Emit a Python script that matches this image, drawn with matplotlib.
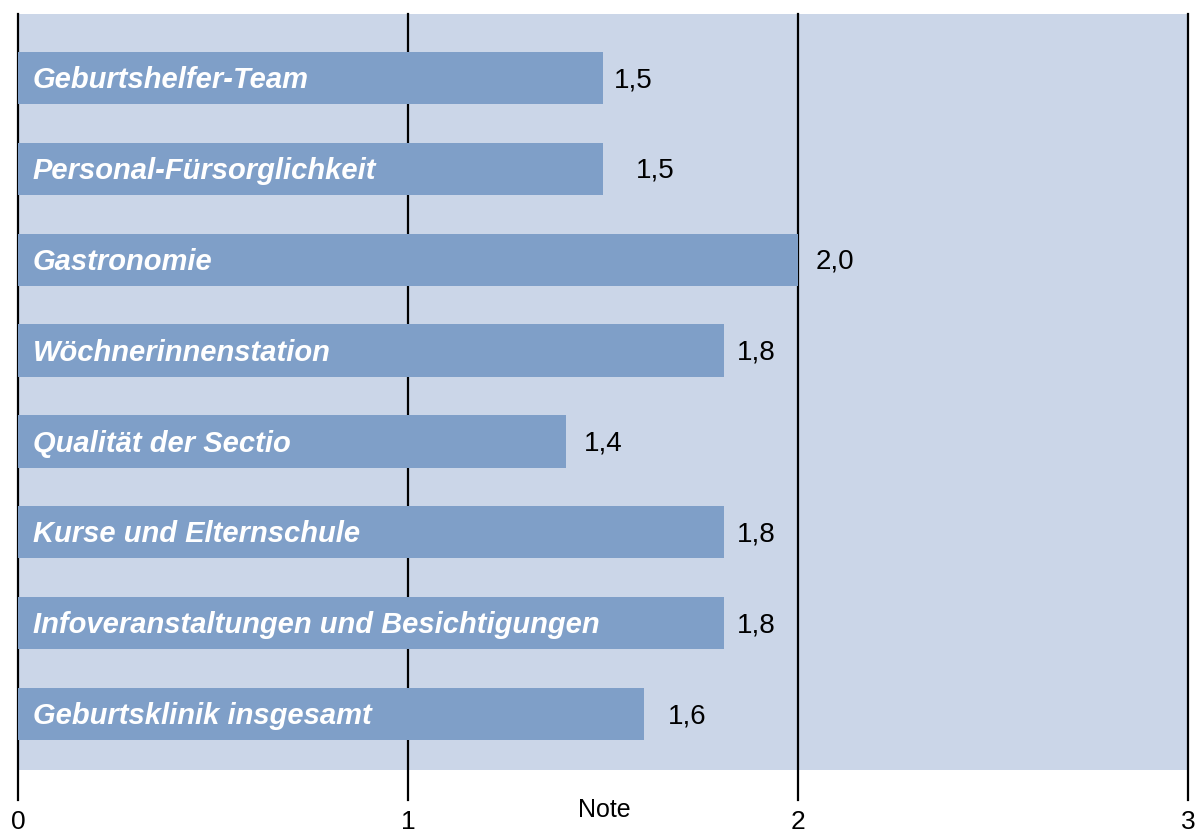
import matplotlib.pyplot as plt
import matplotlib.transforms as mtransforms

# categories, top to bottom
categories = ['Geburtshelfer-Team', 'Personal-Fürsorglichkeit', 'Gastronomie',
              'Wöchnerinnenstation', 'Qualität der Sectio', 'Kurse und Elternschule',
              'Infoveranstaltungen und Besichtigungen', 'Geburtsklinik insgesamt']
scores = [1.5, 1.5, 2.0, 1.81, 1.405, 1.81, 1.81, 1.605]
score_labels = ['1,5', '1,5', '2,0', '1,8', '1,4', '1,8', '1,8', '1,6']
x_ticks = [0, 1, 2, 3]

# small horizontal nudges for the value labels (points)
label_pad = [8, 24, 13, 9, 13, 9, 9, 17]

plt.rcParams['font.family'] = ['Liberation Sans', 'DejaVu Sans']

fig = plt.figure(figsize=(12.03, 8.36), dpi=100)
W, H = 1203, 836
ax = fig.add_axes([18 / W, (H - 770) / H, (1188 - 18) / W, (770 - 14) / H])
ax.set_facecolor('#cbd6e8')

ypos = list(range(len(categories)))
ax.barh(ypos, scores, height=0.575, color='#7f9fc8', zorder=2)

for y, v, name, lab, pad in zip(ypos, scores, categories, score_labels, label_pad):
    ax.annotate(name, (0.038, y), xytext=(0, -1.5), textcoords='offset points',
                color='white', fontsize=21, fontweight='bold', fontstyle='italic',
                va='center', ha='left', zorder=3)
    ax.annotate(lab, (v, y), xytext=(pad, -1.5), textcoords='offset points',
                fontsize=20, va='center', ha='left', color='black', zorder=3)

ax.set_xlim(0, 3)
ax.set_ylim(7.616, -0.704)
ax.set_yticks([])

# vertical lines that run below the plot area, behind the bars
trans = mtransforms.blended_transform_factory(ax.transData, ax.transAxes)
for t in x_ticks:
    ax.plot([t, t], [-0.04, 1.0], color='black', lw=1.6, transform=trans,
            clip_on=False, zorder=1)

ax.set_xticks(x_ticks)
ax.tick_params(axis='x', length=0, pad=29)
for lbl in ax.get_xticklabels():
    lbl.set_fontsize(19)
    lbl.set_verticalalignment('top')
for s in ax.spines.values():
    s.set_visible(False)

fig.text(604 / W, (H - 810) / H, 'Note', ha='center', va='center', fontsize=18)

fig.savefig('out.png', dpi=100)
